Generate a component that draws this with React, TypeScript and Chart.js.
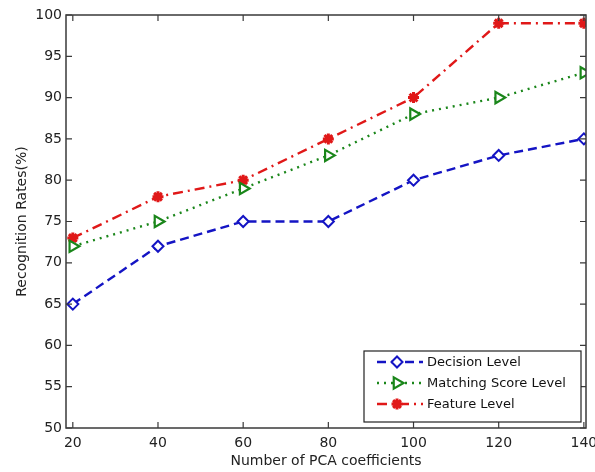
import React, { useEffect, useRef } from "react";
import { Chart, registerables } from "chart.js";
import { drawPoint } from "chart.js/helpers";

Chart.register(...registerables);

const xValues = [20, 40, 60, 80, 100, 120, 140];
const decisionLevel = [65, 72, 75, 75, 80, 83, 85];
const matchingScoreLevel = [72, 75, 79, 83, 88, 90, 93];
const featureLevel = [73, 78, 80, 85, 90, 99, 99];
const xTicks = [20, 40, 60, 80, 100, 120, 140];
const yTicks = [50, 55, 60, 65, 70, 75, 80, 85, 90, 95, 100];
const seriesNames = ["Decision Level", "Matching Score Level", "Feature Level"];

const FONT = "'DejaVu Sans', 'Liberation Sans', Arial, sans-serif";

const boxPlugin = {
  id: "matlabBox",
  afterDatasetsDraw(chart: any) {
    const { ctx, chartArea: a, scales } = chart;
    const xs = scales.x;
    const ys = scales.y;
    ctx.save();
    ctx.strokeStyle = "#3a3a3a";
    ctx.lineWidth = 1.5;
    ctx.strokeRect(a.left, a.top, a.right - a.left, a.bottom - a.top);
    ctx.lineWidth = 1.2;
    const t = 6;
    ctx.beginPath();
    xTicks.forEach((v) => {
      const px = xs.getPixelForValue(v);
      ctx.moveTo(px, a.bottom);
      ctx.lineTo(px, a.bottom - t);
      ctx.moveTo(px, a.top);
      ctx.lineTo(px, a.top + t);
    });
    yTicks.forEach((v) => {
      const py = ys.getPixelForValue(v);
      ctx.moveTo(a.left, py);
      ctx.lineTo(a.left + t, py);
      ctx.moveTo(a.right, py);
      ctx.lineTo(a.right - t, py);
    });
    ctx.stroke();
    ctx.restore();
  },
  afterDraw(chart: any) {
    const { ctx, chartArea: a } = chart;
    const boxL = 364;
    const boxR = a.right - 5;
    const boxT = 351;
    const boxB = a.bottom - 6;
    ctx.save();
    ctx.fillStyle = "#ffffff";
    ctx.fillRect(boxL, boxT, boxR - boxL, boxB - boxT);
    ctx.strokeStyle = "#222";
    ctx.lineWidth = 1.2;
    ctx.strokeRect(boxL, boxT, boxR - boxL, boxB - boxT);
    chart.data.datasets.forEach((ds: any, i: number) => {
      const y = boxT + 11 + i * 21;
      ctx.save();
      ctx.strokeStyle = ds.borderColor;
      ctx.lineWidth = ds.borderWidth;
      ctx.setLineDash(ds.borderDash || []);
      ctx.beginPath();
      ctx.moveTo(boxL + 13, y);
      ctx.lineTo(boxL + 59, y);
      ctx.stroke();
      ctx.setLineDash([]);
      ctx.strokeStyle = ds.pointBorderColor;
      ctx.fillStyle = ds.pointBackgroundColor;
      ctx.lineWidth = ds.pointBorderWidth;
      drawPoint(ctx, {
        pointStyle: ds.pointStyle,
        rotation: ds.pointRotation || 0,
        radius: ds.pointRadius,
        borderWidth: ds.pointBorderWidth,
      } as any, boxL + 33, y);
      ctx.restore();
      ctx.fillStyle = "#111";
      ctx.font = `13px ${FONT}`;
      ctx.textBaseline = "middle";
      ctx.textAlign = "left";
      ctx.fillText(ds.label, boxL + 63, y + 1);
    });
    ctx.restore();
  },
};

export default function App() {
  const ref = useRef<HTMLCanvasElement | null>(null);
  useEffect(() => {
    if (!ref.current) return;
    const mk = (arr: number[]) => arr.map((v, i) => ({ x: xValues[i], y: v }));
    const chart = new Chart(ref.current, {
      type: "line",
      data: {
        datasets: [
          {
            label: seriesNames[0],
            data: mk(decisionLevel),
            borderColor: "#1414c4",
            borderWidth: 2.4,
            borderDash: [9, 5],
            pointStyle: "rectRot",
            pointRadius: 5.5,
            pointBorderWidth: 2,
            pointBorderColor: "#1414c4",
            pointBackgroundColor: "#ffffff",
            fill: false,
            tension: 0,
          },
          {
            label: seriesNames[1],
            data: mk(matchingScoreLevel),
            borderColor: "#1a861a",
            borderWidth: 2.4,
            borderDash: [2, 5],
            pointStyle: "triangle",
            pointRotation: 90,
            pointRadius: 6.5,
            pointBorderWidth: 2.2,
            pointBorderColor: "#1a861a",
            pointBackgroundColor: "#ffffff",
            fill: false,
            tension: 0,
          },
          {
            label: seriesNames[2],
            data: mk(featureLevel),
            borderColor: "#e01818",
            borderWidth: 2.4,
            borderDash: [10, 5, 2, 5],
            pointStyle: "star",
            pointRadius: 5.5,
            pointBorderWidth: 3,
            pointBorderColor: "#e01818",
            pointBackgroundColor: "#e01818",
            fill: false,
            tension: 0,
          },
        ] as any,
      },
      options: {
        animation: false,
        responsive: false,
        maintainAspectRatio: false,
        layout: { padding: { top: 15, right: 9, left: 0, bottom: 0 } },
        plugins: { legend: { display: false }, tooltip: { enabled: false } },
        scales: {
          x: {
            type: "linear",
            min: 18.4,
            max: 140.5,
            afterBuildTicks: (s: any) => {
              s.ticks = xTicks.map((v) => ({ value: v }));
            },
            afterFit: (s: any) => {
              s.height = 44;
              s.paddingLeft = 0;
              s.paddingRight = 0;
            },
            grid: { display: false, drawTicks: false },
            border: { display: false },
            ticks: {
              padding: 7,
              color: "#222",
              font: { family: FONT, size: 14 },
              maxRotation: 0,
              autoSkip: false,
            },
            title: {
              display: true,
              text: "Number of PCA coefficients",
              color: "#222",
              font: { family: FONT, size: 14 },
              padding: { top: 0, bottom: 2 },
            },
          },
          y: {
            type: "linear",
            min: 50,
            max: 100,
            afterBuildTicks: (s: any) => {
              s.ticks = yTicks.map((v) => ({ value: v }));
            },
            afterFit: (s: any) => {
              s.width = 66;
              s.paddingTop = 0;
              s.paddingBottom = 0;
            },
            grid: { display: false, drawTicks: false },
            border: { display: false },
            ticks: {
              padding: 4,
              color: "#222",
              font: { family: FONT, size: 14 },
              autoSkip: false,
            },
            title: {
              display: true,
              text: "Recognition Rates(%)",
              color: "#222",
              font: { family: FONT, size: 14 },
              padding: { top: 13.5, bottom: 0 },
            },
          },
        },
      } as any,
      plugins: [boxPlugin],
    });
    return () => chart.destroy();
  }, []);
  return (
    <div style={{ position: "absolute", left: 0, top: 0, width: 595, height: 472, background: "#fff" }}>
      <canvas ref={ref} width={595} height={472} style={{ width: 595, height: 472 }} />
    </div>
  );
}
